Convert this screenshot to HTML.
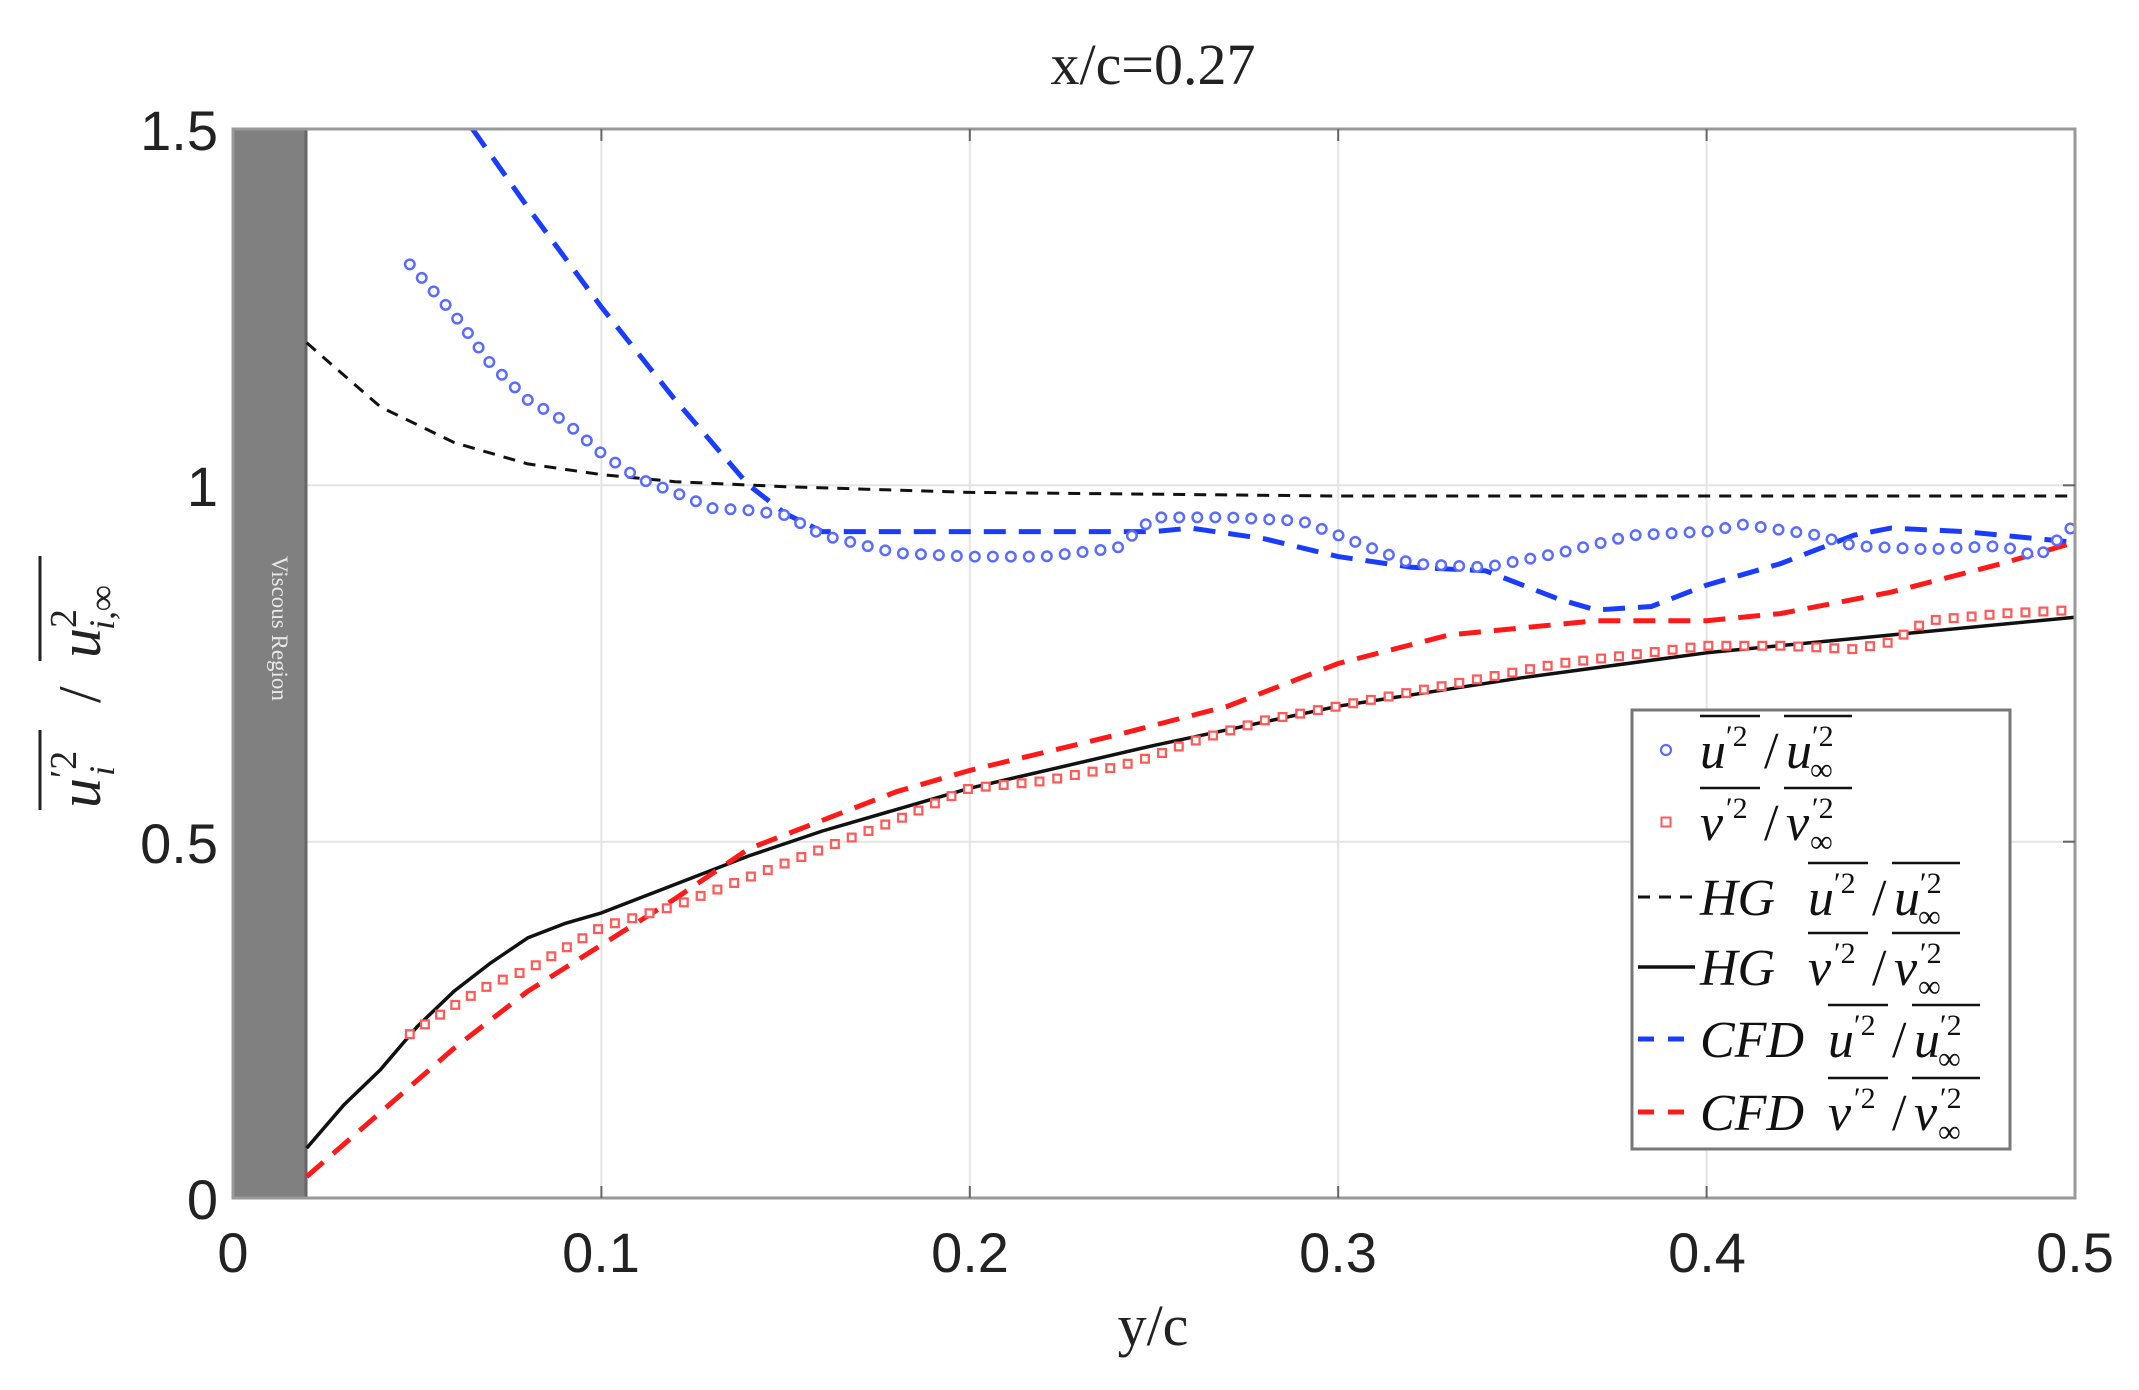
<!DOCTYPE html>
<html><head><meta charset="utf-8"><style>
html,body{margin:0;padding:0;background:#fff}
svg{display:block}
</style></head><body>
<svg width="2139" height="1390" xmlns="http://www.w3.org/2000/svg">
<rect width="2139" height="1390" fill="#fff"/>
<g stroke="#e4e4e4" stroke-width="2">
<line x1="601.4" y1="129" x2="601.4" y2="1198"/>
<line x1="969.8" y1="129" x2="969.8" y2="1198"/>
<line x1="1338.2" y1="129" x2="1338.2" y2="1198"/>
<line x1="1706.6" y1="129" x2="1706.6" y2="1198"/>
<line x1="233" y1="485.3" x2="2075" y2="485.3"/>
<line x1="233" y1="841.7" x2="2075" y2="841.7"/>
</g>
<rect x="233" y="129" width="73" height="1069" fill="#808080" stroke="#666" stroke-width="3"/>
<text transform="translate(272,556) rotate(90)" font-family="Liberation Serif, serif" font-size="23" fill="#e8e8e8">Viscous Region</text>

<!-- HG u dashed -->
<polyline fill="none" stroke="#111" stroke-width="3" stroke-dasharray="12 9" points="306.7,342.8 380.4,406.9 454,442.5 527.7,463.9 601.4,474.6 675.1,481.7 785.6,486.7 969.8,492.4 1338.2,496 2075,496"/>
<!-- HG v solid -->
<polyline fill="none" stroke="#111" stroke-width="3.5" stroke-linejoin="round" points="306.7,1148.1 343.5,1105.3 380.4,1069.7 417.2,1026.6 454,991.3 490.9,962.8 527.7,937.9 564.6,923.6 601.4,912.9 675.1,884.4 748.8,855.9 822.4,831 969.8,788.2 1154,745.4 1338.2,706.2 1522.4,677.7 1706.6,652.8 1890.8,635 2075,617.2"/>
<!-- CFD u -->
<polyline fill="none" stroke="#1a3cff" stroke-width="5" stroke-dasharray="22 13" points="472.5,129 527.7,207.3 601.4,307.1 675.1,399.8 748.8,485.3 785.6,513.8 822.4,531.6 969.8,531.6 1154,531.6 1190.8,528.1 1264.5,538.8 1338.2,556.6 1411.9,567.3 1485.6,570.8 1559.2,599.3 1596.1,610 1651.3,606.5 1706.6,585.1 1780.3,563.7 1854,535.2 1890.8,528.1 1964.5,531.6 2075,542.3"/>
<!-- CFD v -->
<polyline fill="none" stroke="#ff1a1a" stroke-width="5" stroke-dasharray="22 13" points="306.7,1176.6 380.4,1112.5 454,1048.3 527.7,991.3 601.4,945 675.1,898.7 748.8,848.8 822.4,820.3 896.1,791.8 969.8,770.4 1117.2,734.8 1227.7,706.2 1338.2,663.5 1448.7,635 1522.4,627.8 1596.1,620.7 1706.6,620.7 1780.3,613.6 1890.8,592.2 2001.3,563.7 2075,542.3"/>

<!-- blue circles -->
<g fill="none" stroke-dasharray="0 18">
<polyline stroke="#5a6cff" stroke-width="12" stroke-linecap="round" points="409.8,264.4 454,314.3 490.9,364.1 527.7,399.8 564.6,421.2 601.4,453.2 638.2,478.2 675.1,492.4 711.9,508.1 748.8,510.3 785.6,515.2 822.4,535.2 896.1,553 969.8,556.6 1043.5,556.6 1117.2,548 1154,517.4 1227.7,517.4 1301.4,521 1338.2,535.2 1411.9,563.7 1485.6,567.3 1559.2,553 1633,535.2 1706.6,531.6 1743.4,524.5 1817.1,535.2 1854,545.9 1927.6,549.4 2001.3,545.9 2038.2,556.6 2075,524.5"/>
<polyline stroke="#fff" stroke-width="7" stroke-linecap="round" points="409.8,264.4 454,314.3 490.9,364.1 527.7,399.8 564.6,421.2 601.4,453.2 638.2,478.2 675.1,492.4 711.9,508.1 748.8,510.3 785.6,515.2 822.4,535.2 896.1,553 969.8,556.6 1043.5,556.6 1117.2,548 1154,517.4 1227.7,517.4 1301.4,521 1338.2,535.2 1411.9,563.7 1485.6,567.3 1559.2,553 1633,535.2 1706.6,531.6 1743.4,524.5 1817.1,535.2 1854,545.9 1927.6,549.4 2001.3,545.9 2038.2,556.6 2075,524.5"/>
<!-- red squares -->
<polyline stroke="#ff5a5a" stroke-width="10" stroke-linecap="square" points="409.8,1034.1 454,1005.6 490.9,984.2 527.7,969.9 564.6,948.6 601.4,927.2 675.1,905.8 748.8,877.3 822.4,848.8 896.1,820.3 969.8,788.2 1043.5,781.1 1117.2,766.8 1154,756.1 1190.8,741.9 1264.5,720.5 1338.2,706.2 1448.7,684.9 1559.2,663.5 1706.6,645.7 1780.3,645.7 1854,649.2 1890.8,642.1 1927.6,620.7 2001.3,613.6 2075,610"/>
<polyline stroke="#fff" stroke-width="5.5" stroke-linecap="square" points="409.8,1034.1 454,1005.6 490.9,984.2 527.7,969.9 564.6,948.6 601.4,927.2 675.1,905.8 748.8,877.3 822.4,848.8 896.1,820.3 969.8,788.2 1043.5,781.1 1117.2,766.8 1154,756.1 1190.8,741.9 1264.5,720.5 1338.2,706.2 1448.7,684.9 1559.2,663.5 1706.6,645.7 1780.3,645.7 1854,649.2 1890.8,642.1 1927.6,620.7 2001.3,613.6 2075,610"/>
</g>

<rect x="233" y="129" width="1842" height="1069" fill="none" stroke="#999" stroke-width="3"/>
<g stroke="#666" stroke-width="2">
<line x1="601.4" y1="1198" x2="601.4" y2="1186"/><line x1="969.8" y1="1198" x2="969.8" y2="1186"/><line x1="1338.2" y1="1198" x2="1338.2" y2="1186"/><line x1="1706.6" y1="1198" x2="1706.6" y2="1186"/>
<line x1="601.4" y1="129" x2="601.4" y2="141"/><line x1="969.8" y1="129" x2="969.8" y2="141"/><line x1="1338.2" y1="129" x2="1338.2" y2="141"/><line x1="1706.6" y1="129" x2="1706.6" y2="141"/>
<line x1="2075" y1="485.3" x2="2063" y2="485.3"/><line x1="2075" y1="841.7" x2="2063" y2="841.7"/>
</g>
<g font-family="Liberation Sans, sans-serif" font-size="56" fill="#222">
<text x="233" y="1272" text-anchor="middle">0</text>
<text x="601" y="1272" text-anchor="middle">0.1</text>
<text x="970" y="1272" text-anchor="middle">0.2</text>
<text x="1338" y="1272" text-anchor="middle">0.3</text>
<text x="1707" y="1272" text-anchor="middle">0.4</text>
<text x="2075" y="1272" text-anchor="middle">0.5</text>
<text x="218" y="1219" text-anchor="end">0</text>
<text x="218" y="863" text-anchor="end">0.5</text>
<text x="218" y="506" text-anchor="end">1</text>
<text x="218" y="150" text-anchor="end">1.5</text>
</g>
<g font-family="Liberation Serif, serif" font-size="58" fill="#222">
<text x="1153" y="84" text-anchor="middle">x/c=0.27</text>
<text x="1153" y="1345" text-anchor="middle">y/c</text>
</g>
<g transform="translate(100,668) rotate(-90)" font-family="Liberation Serif, serif" font-style="italic" font-size="60" fill="#222">
<text x="-140" y="0">u</text><text x="-110" y="-24" font-size="38" font-style="normal">′2</text><text x="-108" y="14" font-size="36">i</text>
<line x1="-142" y1="-60" x2="-62" y2="-60" stroke="#222" stroke-width="3"/>
<text x="-35" y="0" font-style="normal">/</text>
<text x="10" y="0">u</text><text x="40" y="-24" font-size="38" font-style="normal">2</text><text x="38" y="14" font-size="36">i,∞</text>
<line x1="7" y1="-60" x2="112" y2="-60" stroke="#222" stroke-width="3"/>
</g>

<rect x="1632" y="710" width="378" height="439" fill="#fff" stroke="#777" stroke-width="3"/>
<circle cx="1666" cy="750" r="5" fill="none" stroke="#5a6cff" stroke-width="2.2"/>
<rect x="1661.5" y="817.5" width="9" height="9" fill="none" stroke="#ff5a5a" stroke-width="2"/>
<line x1="1638" x2="1693" y1="897" y2="897" stroke="#111" stroke-width="3" stroke-dasharray="12 9"/>
<line x1="1638" x2="1695" y1="967" y2="967" stroke="#111" stroke-width="3.5"/>
<line x1="1638" x2="1693" y1="1039" y2="1039" stroke="#1a3cff" stroke-width="5" stroke-dasharray="16 14"/>
<line x1="1638" x2="1693" y1="1112" y2="1112" stroke="#ff1a1a" stroke-width="5" stroke-dasharray="16 14"/>
<g font-family="Liberation Serif, serif" font-style="italic" font-size="52" fill="#111">
<!-- row1 -->
<text x="1700" y="768">u</text><text x="1726" y="746" font-size="30" font-style="normal">′2</text>
<text x="1764" y="768" font-style="normal">/</text>
<text x="1786" y="768">u</text><text x="1812" y="746" font-size="30" font-style="normal">′2</text><text x="1810" y="780" font-size="32" font-style="normal">∞</text>
<!-- row2 -->
<text x="1700" y="840">v</text><text x="1726" y="818" font-size="30" font-style="normal">′2</text>
<text x="1764" y="840" font-style="normal">/</text>
<text x="1786" y="840">v</text><text x="1812" y="818" font-size="30" font-style="normal">′2</text><text x="1810" y="852" font-size="32" font-style="normal">∞</text>
<!-- row3 -->
<text x="1700" y="915">HG</text>
<text x="1808" y="915">u</text><text x="1834" y="893" font-size="30" font-style="normal">′2</text>
<text x="1872" y="915" font-style="normal">/</text>
<text x="1894" y="915">u</text><text x="1920" y="893" font-size="30" font-style="normal">′2</text><text x="1918" y="927" font-size="32" font-style="normal">∞</text>
<!-- row4 -->
<text x="1700" y="985">HG</text>
<text x="1808" y="985">v</text><text x="1834" y="963" font-size="30" font-style="normal">′2</text>
<text x="1872" y="985" font-style="normal">/</text>
<text x="1894" y="985">v</text><text x="1920" y="963" font-size="30" font-style="normal">′2</text><text x="1918" y="997" font-size="32" font-style="normal">∞</text>
<!-- row5 -->
<text x="1700" y="1057">CFD</text>
<text x="1828" y="1057">u</text><text x="1854" y="1035" font-size="30" font-style="normal">′2</text>
<text x="1892" y="1057" font-style="normal">/</text>
<text x="1914" y="1057">u</text><text x="1940" y="1035" font-size="30" font-style="normal">′2</text><text x="1938" y="1069" font-size="32" font-style="normal">∞</text>
<!-- row6 -->
<text x="1700" y="1130">CFD</text>
<text x="1828" y="1130">v</text><text x="1854" y="1108" font-size="30" font-style="normal">′2</text>
<text x="1892" y="1130" font-style="normal">/</text>
<text x="1914" y="1130">v</text><text x="1940" y="1108" font-size="30" font-style="normal">′2</text><text x="1938" y="1142" font-size="32" font-style="normal">∞</text>
</g>
<g stroke="#111" stroke-width="2.5">
<line x1="1700" x2="1760" y1="716" y2="716"/><line x1="1784" x2="1852" y1="716" y2="716"/>
<line x1="1700" x2="1760" y1="788" y2="788"/><line x1="1784" x2="1852" y1="788" y2="788"/>
<line x1="1808" x2="1868" y1="863" y2="863"/><line x1="1892" x2="1960" y1="863" y2="863"/>
<line x1="1808" x2="1868" y1="933" y2="933"/><line x1="1892" x2="1960" y1="933" y2="933"/>
<line x1="1828" x2="1888" y1="1005" y2="1005"/><line x1="1912" x2="1980" y1="1005" y2="1005"/>
<line x1="1828" x2="1888" y1="1078" y2="1078"/><line x1="1912" x2="1980" y1="1078" y2="1078"/>
</g>
</svg>
</body></html>
